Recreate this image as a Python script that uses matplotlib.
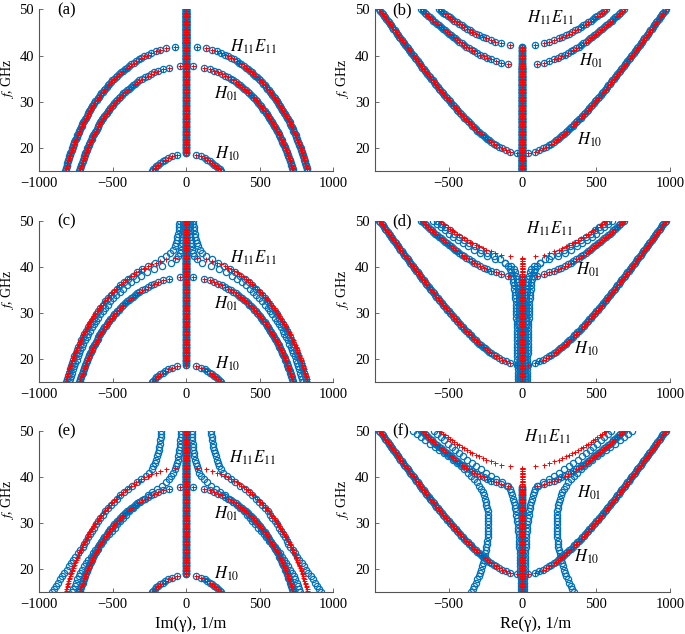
import numpy as np
import matplotlib.pyplot as plt

plt.rcParams['font.family'] = ['Liberation Serif', 'DejaVu Serif']
plt.rcParams['mathtext.fontset'] = 'stix'

# frequency grid, GHz (0.35 GHz step), and every other point for the lossy curves
freq = np.linspace(15, 50, 101)
freq2 = freq[::2]

# lossless modes (red crosses): Im part below cutoff, Re part above, 1/m
h10_im = [236, 226, 215, 204, 191, 177, 162, 144, 124, 99, 65]
h10_re = [38, 86, 115, 139, 160, 178, 195, 211, 226, 241,
          254, 268, 281, 293, 305, 317, 328, 340, 351, 362,
          372, 383, 394, 404, 414, 424, 434, 444, 454, 463,
          473, 482, 492, 501, 510, 520, 529, 538, 547, 556,
          565, 574, 583, 591, 600, 609, 618, 626, 635, 644,
          652, 661, 669, 678, 686, 695, 703, 711, 720, 728,
          736, 745, 753, 761, 769, 778, 786, 794, 802, 810,
          819, 827, 835, 843, 851, 859, 867, 875, 883, 891,
          899, 907, 915, 923, 931, 939, 947, 955, 963, 971]
h01_im = [727, 724, 721, 717, 714, 710, 706, 703, 699, 695,
          691, 687, 682, 678, 673, 669, 664, 659, 654, 649,
          644, 639, 633, 628, 622, 616, 610, 604, 598, 591,
          585, 578, 571, 564, 557, 549, 541, 533, 525, 517,
          508, 499, 490, 481, 471, 461, 451, 440, 429, 417,
          405, 392, 379, 365, 351, 336, 320, 302, 284, 264,
          242, 218, 191, 158, 117, 46]
h01_re = [98, 146, 182, 212, 239, 263, 286, 307, 327, 345, 363, 380,
          397, 413, 429, 444, 459, 473, 487, 501, 515, 528, 541, 554,
          567, 579, 592, 604, 616, 628, 639, 651, 663, 674, 685]
h11_im = [824, 821, 818, 815, 812, 809, 806, 803, 799, 796,
          792, 789, 785, 781, 777, 773, 769, 765, 761, 756,
          752, 747, 743, 738, 733, 728, 723, 718, 713, 707,
          702, 696, 690, 684, 678, 672, 666, 660, 653, 646,
          639, 632, 625, 618, 610, 602, 594, 586, 578, 569,
          561, 552, 542, 533, 523, 513, 503, 492, 481, 469,
          457, 445, 432, 419, 405, 391, 375, 359, 342, 325,
          305, 285, 262, 237, 209, 177, 136, 75]
h11_re = [85, 143, 183, 216, 245, 271, 295, 318, 339, 359, 378, 396,
          413, 430, 447, 463, 478, 494, 508, 523, 537, 551, 565]

# weak losses, panels (c), (d): the two H11/E11 branches
m1_im = [817, 811, 805, 799, 792, 785, 777, 770, 762, 753, 744, 735, 725,
         715, 704, 693, 682, 670, 657, 644, 630, 616, 601, 585, 568, 550,
         532, 512, 494, 472, 448, 423, 396, 366, 334, 299, 259, 216, 172,
         135, 109, 92, 80, 72, 65, 60, 56, 53, 50, 47, 45]
m1_re = [32, 32, 32, 33, 33, 33, 33, 34, 34, 35, 35, 35, 36,
         36, 37, 38, 38, 39, 40, 40, 41, 42, 43, 45, 46, 47,
         49, 51, 53, 55, 58, 61, 66, 71, 78, 87, 100, 120, 151,
         193, 239, 283, 324, 362, 398, 432, 463, 493, 522, 550, 577]
m2_im = [795, 789, 783, 776, 769, 762, 754, 746, 738, 729, 720, 710, 700,
         690, 679, 667, 655, 643, 630, 616, 601, 586, 570, 554, 536, 517,
         497, 476, 454, 430, 404, 376, 344, 309, 269, 223, 167, 107, 71,
         54, 45, 39, 35, 32, 30, 28, 26, 25, 24, 22, 22]
m2_re = [16, 17, 17, 17, 17, 17, 17, 17, 18, 18, 18, 18, 19,
         19, 19, 20, 20, 20, 21, 21, 22, 22, 23, 24, 24, 25,
         26, 27, 29, 30, 32, 35, 38, 42, 48, 58, 78, 121, 183,
         239, 287, 330, 368, 403, 436, 468, 497, 526, 553, 580, 605]

# strong losses, panels (e), (f)
a_im = [916, 902, 888, 874, 860, 845, 830, 815, 800, 785, 769, 754, 738,
        723, 705, 694, 682, 670, 658, 645, 631, 617, 602, 586, 570, 553,
        534, 515, 495, 473, 449, 424, 397, 367, 334, 305, 275, 252, 236,
        224, 214, 206, 199, 193, 188, 183, 179, 176, 173, 171, 169]
b_im = [775, 768, 760, 751, 741, 731, 720, 708, 695, 681, 666, 651, 635,
        618, 600, 582, 564, 545, 526, 507, 488, 469, 450, 430, 410, 389,
        366, 342, 317, 290, 262, 232, 200, 168, 140, 118, 101, 88, 78,
        70, 64, 59, 55, 51, 48, 45, 43, 41, 39, 37, 36]
p_re = [350, 338, 327, 317, 307, 298, 290, 282, 275, 268, 262, 257, 252,
        248, 244, 241, 238, 236, 235, 234, 233, 233, 233, 234, 235, 237,
        240, 244, 249, 255, 262, 271, 282, 295, 310, 328, 350, 372, 395,
        419, 445, 473, 502, 532, 563, 595, 627, 658, 688, 716, 744]
q_re = [10, 11, 11, 12, 12, 13, 14, 14, 15, 16, 17, 18, 19,
        20, 21, 22, 24, 25, 27, 29, 31, 33, 36, 39, 42, 45,
        48, 52, 57, 62, 68, 76, 88, 104, 140, 178, 215, 250, 283,
        315, 345, 374, 402, 429, 455, 480, 505, 530, 554, 578, 602]

BLUE = '#0072BD'


def full(im_part, re_part):
    im = np.concatenate([im_part, np.zeros(len(re_part))])
    re = np.concatenate([np.zeros(len(im_part)), re_part])
    return im, re


h10 = full(h10_im, h10_re)
h01 = full(h01_im, h01_re)
h11 = full(h11_im, h11_re)


def marks(ax, blue, red):
    for f, v in blue:
        v = np.asarray(v, float)
        ax.plot(np.r_[-v, v], np.r_[f, f], ls='none', marker='o', ms=4.5,
                mfc='none', mec=BLUE, mew=0.9)
    for f, v in red:
        v = np.asarray(v, float)
        ax.plot(np.r_[-v, v], np.r_[f, f], ls='none', marker='+', ms=3.6,
                color='red', mew=0.7)


fig = plt.figure(figsize=(6.85, 6.34), dpi=100)

lefts = [0.0574, 0.5474]
widths = [0.4292, 0.4307]
bottoms = [0.7303, 0.397, 0.0658]
height = 0.255

red_im = [(freq, h10[0]), (freq, h01[0]), (freq, h11[0])]
red_re = [(freq, h10[1]), (freq, h01[1]), (freq, h11[1])]

blue_sets = [
    (red_im, red_re),
    ([(freq, h10[0]), (freq, h01[0]), (freq2, m1_im), (freq2, m2_im)],
     [(freq, h10[1]), (freq, h01[1]), (freq2, m1_re), (freq2, m2_re)]),
    ([(freq, h10[0]), (freq, h01[0]), (freq2, a_im), (freq2, b_im)],
     [(freq, h10[1]), (freq, h01[1]), (freq2, p_re), (freq2, q_re)]),
]

letters = [['(a)', '(b)'], ['(c)', '(d)'], ['(e)', '(f)']]

# mode label positions (x, f) for the Im and Re panels of each row
lab_im = [[(300, 41.9), (185, 31.8), (195, 18.7)],
          [(300, 42.0), (185, 32.0), (195, 19.0)],
          [(287, 44.1), (185, 31.9), (185, 19.0)]]
lab_re = [[(34, 48.1), (380, 38.8), (372, 21.8)],
          [(22, 48.2), (360, 39.3), (349, 22.2)],
          [(11, 48.6), (372, 36.5), (349, 22.6)]]
mode_names = [r'$H_{11}E_{11}$', r'$H_{01}$', r'$H_{10}$']

for r in range(3):
    for c in range(2):
        ax = fig.add_axes([lefts[c], bottoms[r], widths[c], height])
        blue = blue_sets[r][c]
        red = red_im if c == 0 else red_re
        marks(ax, blue, red)
        ax.set_xlim(-1000, 1000)
        ax.set_ylim(15, 50)
        ax.set_yticks([20, 30, 40, 50])
        if c == 0:
            ax.set_xticks([-1000, -500, 0, 500, 1000])
        else:
            ax.set_xticks([-500, 0, 500, 1000])
        for s in ['top', 'right']:
            ax.spines[s].set_visible(False)
        for s in ['left', 'bottom']:
            ax.spines[s].set_color('#555555')
            ax.spines[s].set_linewidth(0.8)
        ax.tick_params(direction='in', length=3, width=0.6, color='#555555',
                       labelsize=10.5, pad=4)
        ax.set_ylabel(r'$f$, GHz', fontsize=10)
        ax.yaxis.set_label_coords(-0.081, 0.572)
        ax.text(-880, 49.8, letters[r][c], fontsize=12, ha='left', va='center')
        labs = lab_im[r] if c == 0 else lab_re[r]
        for (x, y), name in zip(labs, mode_names):
            ax.text(x, y, name, fontsize=12, ha='left', va='center')

fig.text(0.0574 + 0.515 * 0.4292, 0.016, 'Im(γ), 1/m', fontsize=12,
         ha='center', va='center')
fig.text(0.5474 + 0.545 * 0.4307, 0.016, 'Re(γ), 1/m', fontsize=12,
         ha='center', va='center')

fig.savefig('out.png', dpi=100)
